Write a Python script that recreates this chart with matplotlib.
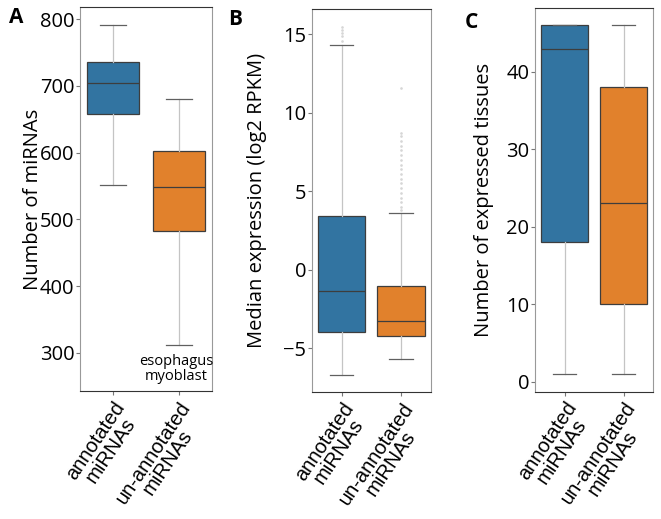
import matplotlib.pyplot as plt
import numpy as np

plt.rcParams['font.family'] = ['Open Sans', 'DejaVu Sans']

# categories
groups = ['annotated\nmiRNAs', 'un-annotated\nmiRNAs']
colors = ['#3274a1', '#e1812c']

# A: number of miRNAs per sample (whislo, q1, med, q3, whishi)
mirna_counts = [[551, 658, 705, 736, 791],
                [312, 483, 549, 603, 680]]
# B: median expression (log2 RPKM)
expression = [[-6.7, -4.0, -1.35, 3.4, 14.3],
              [-5.7, -4.2, -3.3, -1.05, 3.6]]
expr_outliers = [[14.6, 14.9, 15.1, 15.3, 15.5],
                 [3.8, 4.0, 4.3, 4.6, 4.9, 5.2, 5.5, 5.8, 6.1, 6.4, 6.7,
                  7.0, 7.3, 7.6, 7.9, 8.2, 8.5, 8.7, 11.6]]
# C: number of expressed tissues
tissues = [[1, 18, 43, 46, 46],
           [1, 10, 23, 38, 46]]

panels = [
    ('A', mirna_counts, None, 'Number of miRNAs', (243, 817.5), [300, 400, 500, 600, 700, 800],
     [0.121, 0.2466, 0.1997, 0.739], -0.356),
    ('B', expression, expr_outliers, 'Median expression (log2 RPKM)', (-7.8, 16.6), [-5, 0, 5, 10, 15],
     [0.4716, 0.2447, 0.1805, 0.7374], -0.458),
    ('C', tissues, None, 'Number of expressed tissues', (-1.3, 48.2), [0, 10, 20, 30, 40],
     [0.8094, 0.2453, 0.1785, 0.7387], -0.432),
]
letter_pos = [(0.013, 0.986), (0.345, 0.982), (0.703, 0.976)]

fig = plt.figure(figsize=(6.61, 5.19), dpi=100)

for (letter, stats, outl, ylabel, ylim, yticks, pos, labx), (lx, ly) in zip(panels, letter_pos):
    ax = fig.add_axes(pos)
    bstats = []
    for i, s in enumerate(stats):
        d = dict(whislo=s[0], q1=s[1], med=s[2], q3=s[3], whishi=s[4])
        d['fliers'] = outl[i] if outl is not None else []
        bstats.append(d)
    bp = ax.bxp(bstats, positions=[0, 1], widths=0.8, patch_artist=True,
                boxprops=dict(edgecolor='#3d3d3d', linewidth=0.9),
                medianprops=dict(color='#3d3d3d', linewidth=0.9),
                whiskerprops=dict(color='#c4c4c4', linewidth=0.9),
                capprops=dict(color='#606060', linewidth=0.9),
                capwidths=0.4,
                flierprops=dict(marker='o', markersize=0.9, markerfacecolor='#d6d6d6',
                                markeredgecolor='#d6d6d6'))
    for patch, c in zip(bp['boxes'], colors):
        patch.set_facecolor(c)
    ax.set_xlim(-0.5, 1.5)
    ax.set_ylim(*ylim)
    ax.set_yticks(yticks)
    ax.tick_params(axis='y', labelsize=14.5, length=3, color='#777777', pad=1)
    ax.tick_params(axis='x', length=3, color='#777777', pad=2)
    ax.set_xticks([0, 1])
    ax.set_xticklabels(groups, rotation=56, ha='right', va='top', rotation_mode='anchor',
                       fontsize=14.5, linespacing=0.9, multialignment='center',
                       family=['Liberation Sans', 'DejaVu Sans'])
    ax.set_ylabel(ylabel, fontsize=14.5)
    ax.yaxis.label.set_va('center')
    ax.yaxis.set_label_coords(labx, 0.5)
    for side in ['left', 'right']:
        ax.spines[side].set_color('#999999')
    for side in ['top', 'bottom']:
        ax.spines[side].set_color('#333333')
    fig.text(lx, ly, letter, fontsize=15, fontweight='bold', va='top')
    if letter == 'A':
        ax.text(0.96, 299, 'esophagus\nmyoblast', ha='center', va='top',
                fontsize=10.5, linespacing=1.05)

plt.savefig('out.png', dpi=100)
